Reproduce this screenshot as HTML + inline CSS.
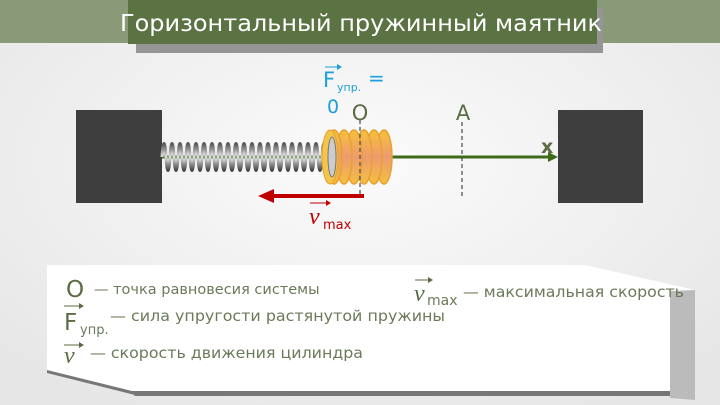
<!DOCTYPE html>
<html><head><meta charset="utf-8"><style>
html,body{margin:0;padding:0;width:720px;height:405px;overflow:hidden}
svg{display:block}
text{font-family:"DejaVu Sans","Liberation Sans",sans-serif}
text.v{font-family:"Liberation Serif",serif;font-style:italic}
</style></head><body>
<svg width="720" height="405" viewBox="0 0 720 405" xmlns="http://www.w3.org/2000/svg">
<defs>
<radialGradient id="bg" cx="50%" cy="40%" r="70%">
<stop offset="0" stop-color="#fbfbfb"/><stop offset="1" stop-color="#e6e6e6"/></radialGradient>
<linearGradient id="coil" x1="0" y1="0" x2="0" y2="1">
<stop offset="0" stop-color="#f6c23a"/><stop offset="0.5" stop-color="#ee9a70"/><stop offset="1" stop-color="#f3c040"/></linearGradient>
<linearGradient id="wire" x1="0" y1="0" x2="0" y2="1">
<stop offset="0" stop-color="#555"/><stop offset="0.5" stop-color="#e0e0e0"/><stop offset="1" stop-color="#444"/></linearGradient>
</defs>
<rect width="720" height="405" fill="url(#bg)"/>
<rect x="0" y="0" width="720" height="43" fill="#8a9a78"/>
<rect x="136" y="8" width="467" height="45" fill="#959595"/>
<rect x="128" y="0" width="469" height="44" fill="#5b7343"/>
<text x="120" y="31" font-size="23" fill="#fff" textLength="482" lengthAdjust="spacingAndGlyphs">Горизонтальный пружинный маятник</text>

<rect x="76" y="110" width="86" height="93" fill="#3e3e3e"/>
<rect x="558" y="110" width="85" height="93" fill="#3e3e3e"/>
<line x1="162" y1="157" x2="552" y2="157" stroke="#3e6b1a" stroke-width="3"/>
<polygon points="558,157 548,152 548,162" fill="#3e6b1a"/>
<text x="541" y="153" font-size="19" font-weight="bold" fill="#5b6b43">x</text>
<g fill="none" stroke="url(#wire)" stroke-width="3">
<path d="M162,157 c1,-18 3,-18 4,0 c1,18 3,18 4,0 c1,-18 3,-18 4,0 c1,18 3,18 4,0 c1,-18 3,-18 4,0 c1,18 3,18 4,0 c1,-18 3,-18 4,0 c1,18 3,18 4,0 c1,-18 3,-18 4,0 c1,18 3,18 4,0 c1,-18 3,-18 4,0 c1,18 3,18 4,0 c1,-18 3,-18 4,0 c1,18 3,18 4,0 c1,-18 3,-18 4,0 c1,18 3,18 4,0 c1,-18 3,-18 4,0 c1,18 3,18 4,0 c1,-18 3,-18 4,0 c1,18 3,18 4,0 c1,-18 3,-18 4,0 c1,18 3,18 4,0 c1,-18 3,-18 4,0 c1,18 3,18 4,0 c1,-18 3,-18 4,0 c1,18 3,18 4,0 c1,-18 3,-18 4,0 c1,18 3,18 4,0 c1,-18 3,-18 4,0 c1,18 3,18 4,0 c1,-18 3,-18 4,0 c1,18 3,18 4,0 c1,-18 3,-18 4,0 c1,18 3,18 4,0 c1,-18 3,-18 4,0 c1,18 3,18 4,0 c1,-18 3,-18 4,0 c1,18 3,18 4,0 c1,-18 3,-18 4,0 c1,18 3,18 4,0 c1,-18 3,-18 4,0 c1,18 3,18 4,0"/>
</g>
<g stroke="#e8a030" stroke-width="1.5" fill="url(#coil)">
<ellipse cx="384" cy="157" rx="8" ry="27"/>
<ellipse cx="374" cy="157" rx="8" ry="27"/>
<ellipse cx="364" cy="157" rx="8" ry="27"/>
<ellipse cx="354" cy="157" rx="8" ry="27"/>
<ellipse cx="344" cy="157" rx="8" ry="27"/>
<ellipse cx="334" cy="157" rx="8" ry="27"/>
</g>
<ellipse cx="330" cy="157" rx="8" ry="27" fill="#f3c54a" stroke="#e8a030"/>
<ellipse cx="332" cy="157" rx="4" ry="20" fill="#ccc" stroke="#777"/>
<line x1="360" y1="120" x2="360" y2="198" stroke="#555" stroke-width="1.3" stroke-dasharray="4,3"/>
<line x1="462" y1="122" x2="462" y2="197" stroke="#555" stroke-width="1.3" stroke-dasharray="4,3"/>
<text x="360" y="120" font-size="21" fill="#5b6b43" text-anchor="middle">O</text>
<text x="463" y="120" font-size="21" fill="#5b6b43" text-anchor="middle">A</text>
<line x1="272" y1="196" x2="364" y2="196" stroke="#c00000" stroke-width="4"/>
<polygon points="258,196 274,189 274,203" fill="#c00000"/>
<line x1="310" y1="203" x2="326" y2="203" stroke="#c00000"/><polygon points="326,200 331,203 326,206" fill="#c00000"/>
<text class="v" x="309" y="224" font-size="24" fill="#c00000">v</text>
<text x="323" y="229" font-size="13" fill="#c00000">max</text>
<line x1="325" y1="67" x2="338" y2="67" stroke="#1ba1d8"/><polygon points="337,64 342,67 337,70" fill="#1ba1d8"/>
<text x="323" y="87" font-size="21" fill="#1ba1d8">F</text>
<text x="337" y="91" font-size="11" fill="#1ba1d8">упр.</text>
<text x="368" y="85" font-size="20" fill="#1ba1d8">=</text>
<text x="327" y="113" font-size="19" fill="#1ba1d8">0</text>

<polygon points="670,290 695,290 695,400 670,398" fill="#bbb"/>
<polygon points="130,391 670,391 670,396 135,396" fill="#777"/>
<polygon points="47,368 130,390 135,395 47,373" fill="#777"/>
<polygon points="47,265 585,265 695,290 670,291 670,391 132,391 47,370" fill="#fff"/>
<text x="66" y="297" font-size="23" fill="#5b6b43">O</text>
<text x="94" y="294" font-size="14.5" fill="#6b7a5a">— точка равновесия системы</text>
<line x1="415" y1="280" x2="429" y2="280" stroke="#5b6b43"/><polygon points="428,277 433,280 428,283" fill="#5b6b43"/>
<text class="v" x="414" y="301" font-size="24" fill="#5b6b43">v</text>
<text x="427" y="305" font-size="14" fill="#6b7a5a">max</text>
<text x="463" y="297" font-size="15" fill="#6b7a5a" textLength="221" lengthAdjust="spacingAndGlyphs">— максимальная скорость</text>
<line x1="64" y1="306" x2="80" y2="306" stroke="#5b6b43"/><polygon points="79,303 84,306 79,309" fill="#5b6b43"/>
<text x="64" y="330" font-size="23" fill="#5b6b43">F</text>
<text x="80" y="334" font-size="13" fill="#6b7a5a">упр.</text>
<text x="110" y="321" font-size="15" fill="#6b7a5a" textLength="335" lengthAdjust="spacingAndGlyphs">— сила упругости растянутой пружины</text>
<line x1="64" y1="345" x2="80" y2="345" stroke="#5b6b43"/><polygon points="79,342 84,345 79,348" fill="#5b6b43"/>
<text class="v" x="64" y="363" font-size="24" fill="#5b6b43">v</text>
<text x="90" y="358" font-size="15" fill="#6b7a5a" textLength="273" lengthAdjust="spacingAndGlyphs">— скорость движения цилиндра</text>
</svg>
</body></html>
